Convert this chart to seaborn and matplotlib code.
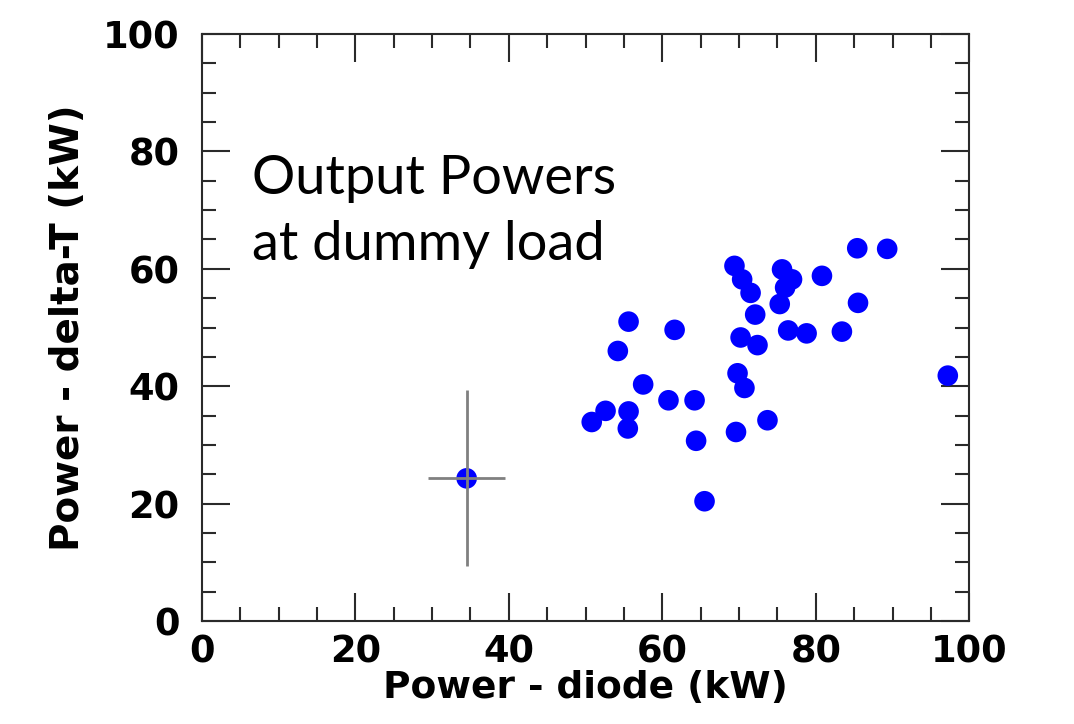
import matplotlib
matplotlib.use("Agg")
import matplotlib.pyplot as plt
import seaborn as sns
import pandas as pd
from matplotlib.ticker import MultipleLocator

# Measured output powers: diode reading vs. calorimetric (delta-T) reading, kW
diode_kw = [85.4, 89.3, 69.4, 70.4, 71.5, 75.6, 76.9, 76.0, 80.8, 75.3,
            85.5, 72.1, 55.6, 61.6, 76.4, 78.8, 83.4, 70.2, 72.4, 54.2,
            69.8, 70.7, 97.2, 57.5, 60.8, 64.2, 52.6, 55.6, 50.8, 55.5,
            73.7, 69.6, 64.4, 65.5]
delta_t_kw = [63.5, 63.4, 60.5, 58.2, 55.9, 59.9, 58.2, 56.8, 58.8, 54.0,
              54.2, 52.2, 51.0, 49.6, 49.5, 49.0, 49.3, 48.3, 47.0, 46.0,
              42.2, 39.7, 41.8, 40.3, 37.6, 37.6, 35.8, 35.7, 33.9, 32.8,
              34.2, 32.2, 30.7, 20.4]

# Representative point with its typical measurement uncertainty
ref_x = [34.5]
ref_y = [24.3]
ref_xerr = [5.0]
ref_yerr = [15.0]

x_label = "Power - diode (kW)"
y_label = "Power - delta-T (kW)"
note = "Output Powers\nat dummy load"

df = pd.DataFrame({"diode": diode_kw, "deltaT": delta_t_kw})
ref = pd.DataFrame({"diode": ref_x, "deltaT": ref_y})

sns.set_theme(style="white")
plt.rcParams["font.family"] = ["DejaVu Sans"]
plt.rcParams["text.color"] = "black"
plt.rcParams["axes.labelcolor"] = "black"
plt.rcParams["xtick.labelcolor"] = "black"
plt.rcParams["ytick.labelcolor"] = "black"

fig = plt.figure(figsize=(10.74, 7.24), dpi=100)
ax = fig.add_axes([0.188, 0.1423, 0.7145, 0.8107])

sns.scatterplot(data=df, x="diode", y="deltaT", ax=ax, color="#0000ff",
                s=220, edgecolor="none", linewidth=0, zorder=3)
sns.scatterplot(data=ref, x="diode", y="deltaT", ax=ax, color="#0000ff",
                s=220, edgecolor="none", linewidth=0, zorder=3)
ax.errorbar(ref_x, ref_y, xerr=ref_xerr, yerr=ref_yerr, fmt="none",
            ecolor="#808080", elinewidth=2.0, capsize=0, zorder=4)

ax.set_xlim(0, 100)
ax.set_ylim(0, 100)
ax.xaxis.set_major_locator(MultipleLocator(20))
ax.yaxis.set_major_locator(MultipleLocator(20))
ax.xaxis.set_minor_locator(MultipleLocator(5))
ax.yaxis.set_minor_locator(MultipleLocator(5))

spine_col = "#2a2a2a"
for sp in ax.spines.values():
    sp.set_visible(True)
    sp.set_color(spine_col)
    sp.set_linewidth(1.5)

ax.tick_params(which="both", direction="in", top=True, right=True,
               bottom=True, left=True, color=spine_col, width=1.5)
ax.tick_params(which="major", length=20)
ax.tick_params(which="minor", length=10)
ax.tick_params(axis="x", which="major", pad=9, labelsize=26.5)
ax.tick_params(axis="y", which="major", pad=16, labelsize=26.5)
for lab in ax.get_xticklabels() + ax.get_yticklabels():
    lab.set_fontweight("bold")

ax.set_xlabel(x_label, fontsize=27, fontweight="bold", labelpad=0)
ax.set_ylabel(y_label, fontsize=28, fontweight="bold")
ax.yaxis.set_label_coords(-0.150, 0.5)

ax.text(0.065, 0.795, note, transform=ax.transAxes, fontsize=39,
        family="Lato", va="top", ha="left", linespacing=1.42, color="black")

fig.savefig("out.png", dpi=100)
